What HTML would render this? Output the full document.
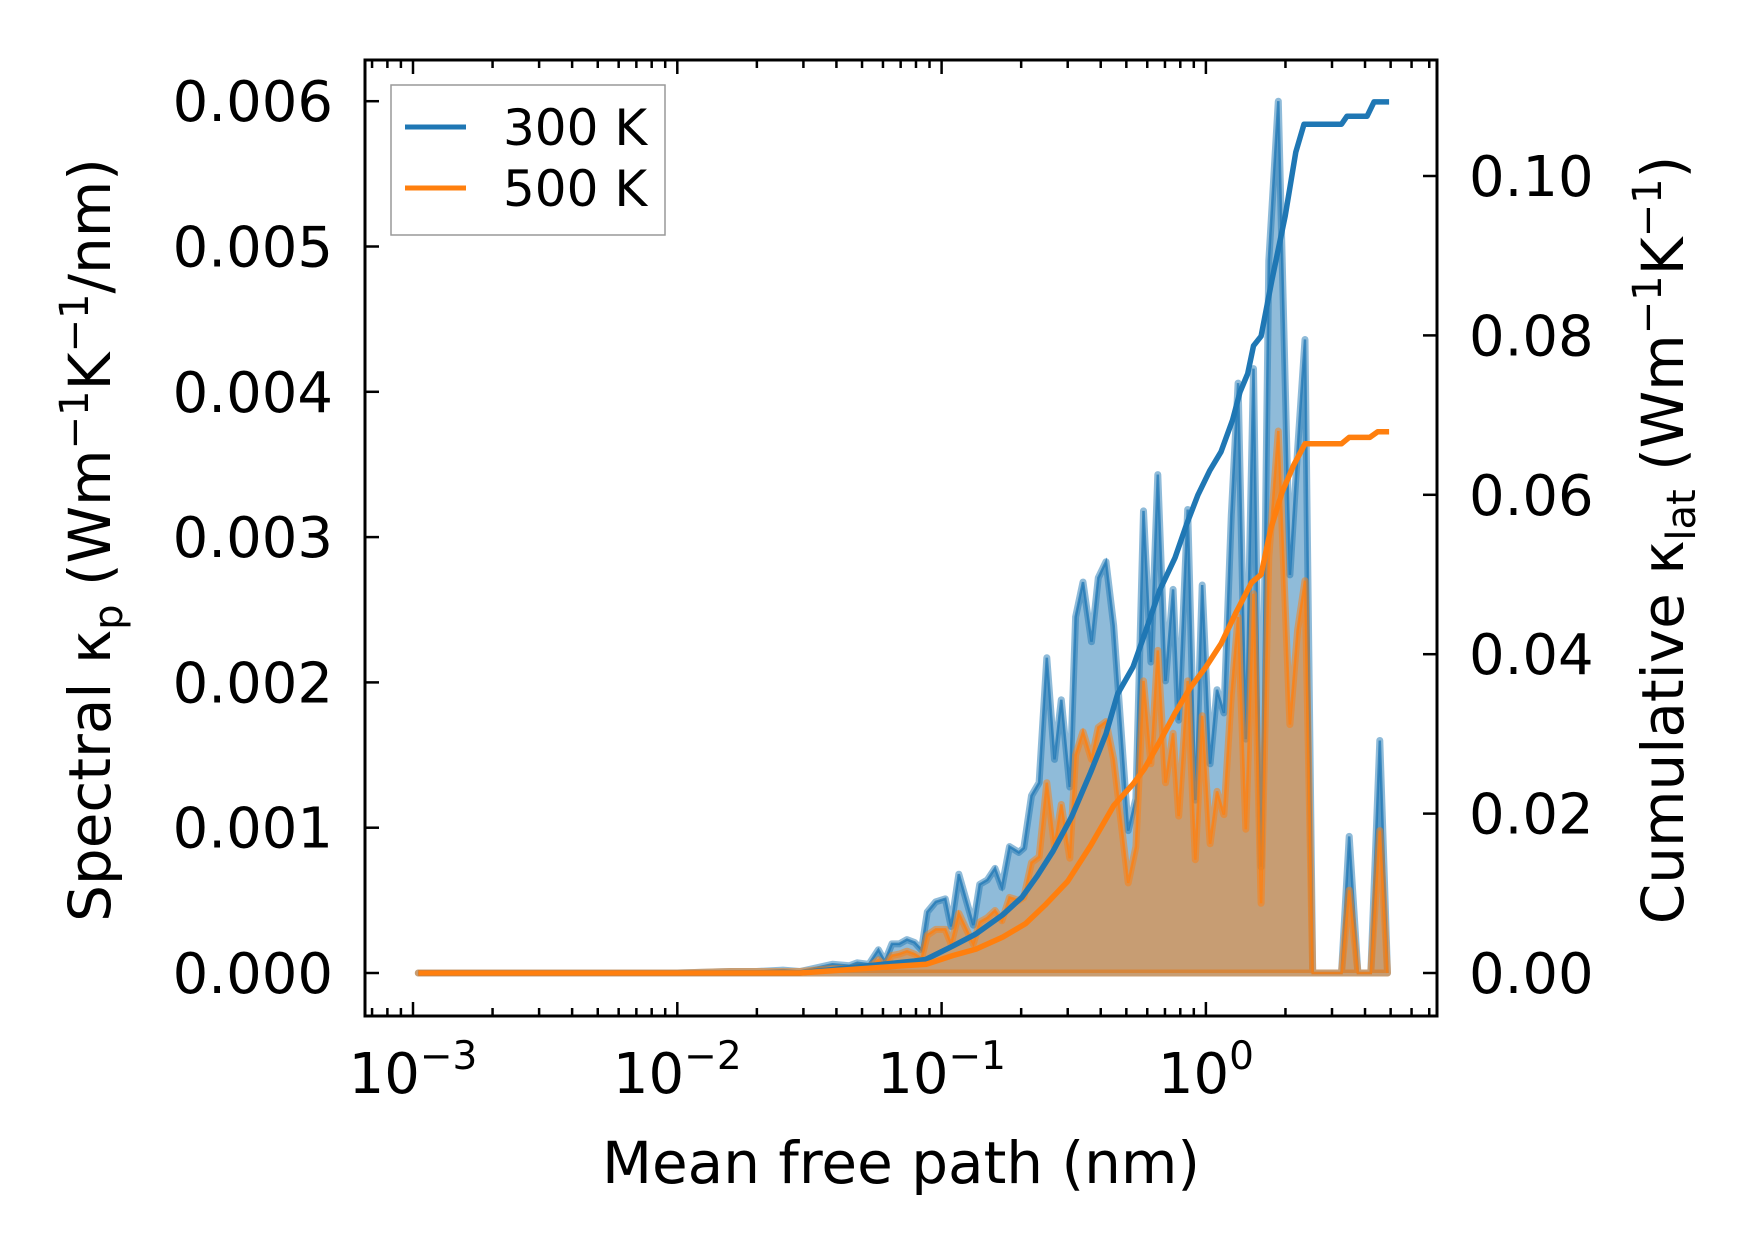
<!DOCTYPE html>
<html><head><meta charset="utf-8"><style>
html,body{margin:0;padding:0;background:#fff}
svg{display:block}
text{font-family:"DejaVu Sans","Liberation Sans",sans-serif;fill:#000}
</style></head><body>
<svg id="chart" width="1753" height="1254" viewBox="0 0 1753 1254" xmlns="http://www.w3.org/2000/svg"></svg>
<script>
// spectral data: log10 of mean free path (nm), values in W m^-1 K^-1 / nm
const logMfp = [-2.98,-2.8,-2.6,-2.4,-2.2,-2.0,-1.8,-1.7,-1.6,-1.536,-1.413,-1.348,-1.319,-1.275,-1.239,-1.215,-1.188,-1.160,-1.131,-1.102,-1.076,-1.054,-1.022,-0.986,-0.964,-0.935,-0.880,-0.856,-0.827,-0.798,-0.772,-0.743,-0.708,-0.689,-0.660,-0.631,-0.602,-0.573,-0.547,-0.515,-0.493,-0.465,-0.433,-0.407,-0.378,-0.349,-0.294,-0.265,-0.236,-0.208,-0.182,-0.153,-0.124,-0.103,-0.069,-0.040,-0.014,0.016,0.042,0.068,0.096,0.122,0.151,0.180,0.209,0.238,0.274,0.318,0.347,0.375,0.404,0.513,0.542,0.575,0.624,0.658,0.687];
const spec300 = [0,0,0,0,0,0,0.00001,0.00001,0.00002,0.00001,0.00006,0.00005,0.00007,0.00006,0.00016,0.00008,0.0002,0.0002,0.00023,0.00021,0.00016,0.00042,0.00049,0.00051,0.00032,0.00068,0.00033,0.00061,0.00064,0.00072,0.00059,0.00087,0.00083,0.00086,0.00122,0.00131,0.00217,0.00147,0.00188,0.00128,0.00245,0.00269,0.00228,0.00272,0.00283,0.00239,0.00098,0.0012,0.00318,0.00214,0.00343,0.00201,0.00264,0.00174,0.00319,0.00119,0.00267,0.00144,0.00195,0.00179,0.00315,0.00406,0.00161,0.00416,0.00073,0.0049,0.006,0.00274,0.0036,0.00436,0,0,0.00094,0,0,0.0016,0];
const spec500 = [0,0,0,0,0,0,0.00001,0.00001,0.00001,0.00001,0.00003,0.00003,0.00004,0.00004,0.00009,0.00005,0.00012,0.00013,0.00015,0.00013,0.0001,0.00026,0.0003,0.0003,0.0002,0.00041,0.0002,0.00035,0.00038,0.00043,0.00036,0.00052,0.0005,0.00052,0.00076,0.0008,0.00131,0.00087,0.00116,0.00079,0.0015,0.00166,0.00147,0.00169,0.00173,0.00147,0.00062,0.00087,0.00201,0.00144,0.00222,0.00131,0.00165,0.00108,0.00201,0.00078,0.00177,0.00089,0.00125,0.00109,0.00191,0.00245,0.00099,0.00261,0.00048,0.00286,0.00373,0.00171,0.00236,0.0027,0,0,0.00057,0,0,0.00098,0];
// cumulative kappa (W m^-1 K^-1)
const cumLog300 = [-2.98,-1.536,-1.102,-1.06,-0.957,-0.870,-0.769,-0.696,-0.638,-0.580,-0.508,-0.436,-0.378,-0.334,-0.276,-0.233,-0.175,-0.117,-0.074,-0.030,0.014,0.057,0.101,0.129,0.158,0.180,0.209,0.250,0.300,0.340,0.371,0.513,0.534,0.610,0.636,0.693];
const cum300 = [0,0,0.0015,0.0017,0.0034,0.0049,0.0073,0.0095,0.0122,0.0152,0.0196,0.0252,0.030,0.035,0.0384,0.0424,0.048,0.0521,0.0562,0.060,0.063,0.0654,0.0694,0.0729,0.0752,0.0787,0.0799,0.087,0.095,0.103,0.1065,0.1065,0.1075,0.1075,0.1093,0.1093];
const cumLog500 = [-2.98,-1.536,-1.058,-0.957,-0.870,-0.769,-0.682,-0.609,-0.523,-0.436,-0.349,-0.276,-0.233,-0.175,-0.117,-0.059,0.0,0.057,0.115,0.173,0.209,0.245,0.288,0.332,0.375,0.513,0.542,0.620,0.650,0.693];
const cum500 = [0,0,0.0011,0.0022,0.003,0.0045,0.0062,0.0085,0.0115,0.016,0.021,0.0237,0.0256,0.029,0.0326,0.0358,0.0384,0.0413,0.0453,0.049,0.050,0.0557,0.0603,0.0637,0.0664,0.0664,0.0672,0.0672,0.0679,0.0679];
const leftTicks = [0,0.001,0.002,0.003,0.004,0.005,0.006];
const leftTickLabels = ["0.000","0.001","0.002","0.003","0.004","0.005","0.006"];
const rightTicks = [0,0.02,0.04,0.06,0.08,0.10];
const rightTickLabels = ["0.00","0.02","0.04","0.06","0.08","0.10"];
const xDecades = [-3,-2,-1,0];

const NS="http://www.w3.org/2000/svg";
const svg=document.getElementById('chart');
const L=365,R=1437,T=60,B=1016;
const X0=413, DEC=264.3;
function xs(lg){return X0+(lg+3)*DEC;}
function yl(v){return 973-v*145300;}
function yr(v){return 973-v*7970;}
function mk(tag,attrs){const e=document.createElementNS(NS,tag);for(const k in attrs)e.setAttribute(k,attrs[k]);return e;}
const plot=mk('g',{});


svg.appendChild(plot);

function areaPath(vals){
  let d='M'+xs(logMfp[0])+','+yl(0);
  for(let i=0;i<logMfp.length;i++)d+=' L'+xs(logMfp[i]).toFixed(1)+','+yl(vals[i]).toFixed(1);
  d+=' L'+xs(logMfp[logMfp.length-1])+','+yl(0)+' Z';return d;
}
function linePath(xa,ya,fy){
  let d='';for(let i=0;i<xa.length;i++)d+=(i?' L':'M')+xs(xa[i]).toFixed(1)+','+fy(ya[i]).toFixed(1);return d;
}
let e=mk('path',{d:areaPath(spec300),fill:'rgba(31,119,180,0.5)',stroke:'rgba(31,119,180,0.5)','stroke-width':7,'stroke-linejoin':'round'});


plot.appendChild(e);
e=mk('path',{d:linePath(logMfp,spec300,yl),fill:'none',stroke:'rgba(31,119,180,0.75)','stroke-width':2.5});


plot.appendChild(e);
e=mk('path',{d:areaPath(spec500),fill:'rgba(255,127,14,0.5)',stroke:'rgba(255,127,14,0.5)','stroke-width':7,'stroke-linejoin':'round'});


plot.appendChild(e);
e=mk('path',{d:linePath(logMfp,spec500,yl),fill:'none',stroke:'rgba(255,127,14,0.75)','stroke-width':2.5});


plot.appendChild(e);
e=mk('path',{d:linePath(cumLog300,cum300,yr),fill:'none',stroke:'#1f77b4','stroke-width':5.5,'stroke-linejoin':'round'});


plot.appendChild(e);
e=mk('path',{d:linePath(cumLog500,cum500,yr),fill:'none',stroke:'#ff7f0e','stroke-width':5.5,'stroke-linejoin':'round'});


plot.appendChild(e);

e=mk('rect',{x:L,y:T,width:R-L,height:B-T,fill:'none',stroke:'#000','stroke-width':3});


svg.appendChild(e);

const ticks=mk('g',{stroke:'#000','stroke-width':2.5});


svg.appendChild(ticks);
for(let d=-4;d<=0;d++){
  for(let m=1;m<10;m++){
    const lg=d+Math.log10(m);const x=xs(lg);
    if(x<L+1||x>R-1)continue;
    const len=m===1?14:8;
    ticks.appendChild(mk('line',{x1:x,y1:B,x2:x,y2:B-len}));
    ticks.appendChild(mk('line',{x1:x,y1:T,x2:x,y2:T+len}));
  }
}
leftTicks.forEach((v,i)=>{
  const y=yl(v);
  ticks.appendChild(mk('line',{x1:L,y1:y,x2:L+14,y2:y}));
  const t=mk('text',{x:333,y:y+20,'font-size':56,'text-anchor':'end'});
  t.textContent=leftTickLabels[i];
  
  
  svg.appendChild(t);
});
rightTicks.forEach((v,i)=>{
  const y=yr(v);
  ticks.appendChild(mk('line',{x1:R,y1:y,x2:R-14,y2:y}));
  const t=mk('text',{x:1469,y:y+20,'font-size':56});
  t.textContent=rightTickLabels[i];
  
  
  svg.appendChild(t);
});
xDecades.forEach(d=>{
  const t=mk('text',{x:xs(d),y:1093,'font-size':56,'text-anchor':'middle'});
  t.innerHTML='10<tspan font-size="39" dy="-24">'+(d<0?'\u2212'+(-d):d)+'</tspan>';
  
  
  svg.appendChild(t);
});
</script>
<svg style="position:absolute;left:0;top:0" width="1753" height="1254">
<text x="901" y="1183" font-size="58" text-anchor="middle">Mean free path (nm)</text>
<text transform="translate(110,540) rotate(-90)" font-size="58" text-anchor="middle">Spectral κ<tspan font-size="40" dy="12">p</tspan><tspan dy="-12"> (Wm</tspan><tspan font-size="40" dy="-22">−1</tspan><tspan dy="22">K</tspan><tspan font-size="40" dy="-22">−1</tspan><tspan dy="22">/nm)</tspan></text>
<text transform="translate(1683,540) rotate(-90)" font-size="58" text-anchor="middle">Cumulative κ<tspan font-size="40" dy="12">lat</tspan><tspan dy="-12"> (Wm</tspan><tspan font-size="40" dy="-22">−1</tspan><tspan dy="22">K</tspan><tspan font-size="40" dy="-22">−1</tspan><tspan dy="22">)</tspan></text>
<g>
<rect x="391" y="85" width="274" height="150" fill="#fff" stroke="#999" stroke-width="1.5"/>
<line x1="405" y1="127" x2="466" y2="127" stroke="#1f77b4" stroke-width="5"/>
<text x="503" y="145" font-size="50">300 K</text>
<line x1="405" y1="188" x2="466" y2="188" stroke="#ff7f0e" stroke-width="5"/>
<text x="503" y="206" font-size="50">500 K</text>
</g>
</svg>
</body></html>
